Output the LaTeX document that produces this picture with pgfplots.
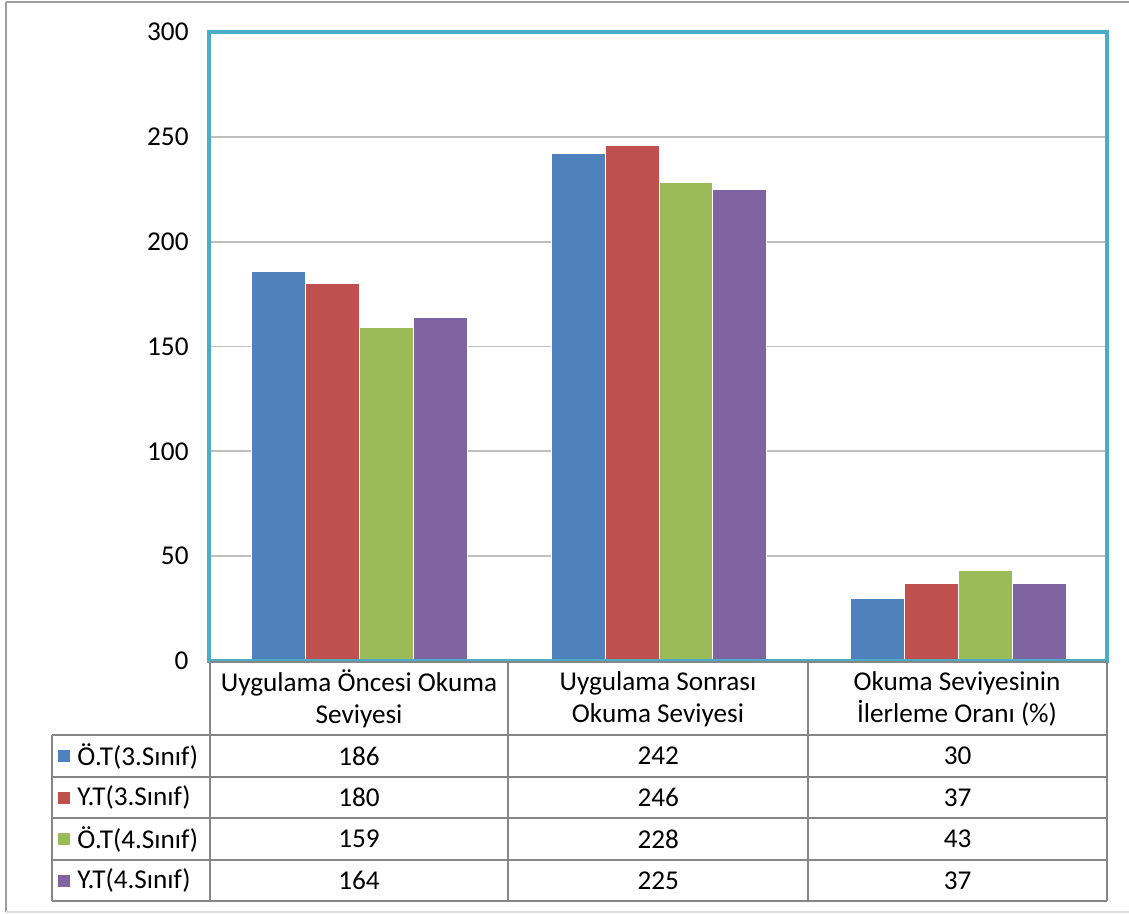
\documentclass[border=0pt]{standalone}
\usepackage{pgfplots}
\usepackage{pgfplotstable}
\pgfplotsset{compat=1.18}
\usepackage{fontspec}
\setmainfont{Carlito}

\definecolor{sblue}{HTML}{4F81BD}
\definecolor{sred}{HTML}{C0504D}
\definecolor{sgreen}{HTML}{9BBB59}
\definecolor{spurple}{HTML}{8064A2}
\definecolor{teal}{HTML}{4BACC6}
\definecolor{grid}{HTML}{868686}

% rows: categories, columns: series
\pgfplotstableread{
cat OT3 YT3 OT4 YT4
0   186 180 159 164
1   242 246 228 225
2   30  37  43  37
}\datatable

\begin{document}
\fontsize{13.6pt}{16pt}\selectfont
\begin{tikzpicture}
% picture drawn in pixel units of the reference (1 px = 0.5 pt, y downwards)
\begin{scope}[x=0.5pt,y=-0.5pt]
\useasboundingbox (0,0) rectangle (1129,914);
\draw[grid!80,line width=1pt] (6,2) -- (1129,2);
\draw[grid!80,line width=1pt] (6,2) -- (6,912);
\draw[gray!25,line width=1pt] (6,912) -- (1129,912);
\end{scope}

\begin{axis}[
at={(105pt,-330.5pt)}, anchor=south west,
scale only axis,
width=449pt, height=314.5pt,
ybar=0pt, bar width=0.18,
xmin=-0.5, xmax=2.5,
ymin=0, ymax=300,
ytick={0,50,...,300},
xtick=\empty,
axis line style={draw=none},
major tick length=0pt,
ymajorgrids,
grid style={grid, line width=0.9pt},
yticklabel style={font=\fontsize{13.6pt}{16pt}\selectfont, xshift=-6pt},
/pgf/number format/assume math mode=true,
clip=false,
every axis plot/.append style={draw=white, line width=0.5pt},
]
\addplot[fill=sblue] table[x=cat,y=OT3] {\datatable};
\addplot[fill=sred] table[x=cat,y=YT3] {\datatable};
\addplot[fill=sgreen] table[x=cat,y=OT4] {\datatable};
\addplot[fill=spurple] table[x=cat,y=YT4] {\datatable};
\end{axis}

\begin{scope}[x=0.5pt,y=-0.5pt]
% plot area border
\draw[teal,line width=2pt] (209,32) rectangle (1107,661);
% data table
\begin{scope}[grid,line width=0.9pt]
\draw (210,662) -- (1107,662);
\foreach \yy in {735,777,818,860,901} \draw (52,\yy) -- (1107,\yy);
\foreach \xx in {210,508,808,1107} \draw (\xx,662) -- (\xx,901);
\draw (52,735) -- (52,901);
\end{scope}
\node[align=center] at (359,699) {Uygulama Öncesi Okuma\\Seviyesi};
\node[align=center] at (658,699) {Uygulama Sonrası\\Okuma Seviyesi};
\node[align=center] at (957,699) {Okuma Seviyesinin\\İlerleme Oranı (\%)};
\foreach \r/\lab/\col [count=\i from 0] in
  {OT3/Ö.T(3.Sınıf)/sblue, YT3/Y.T(3.Sınıf)/sred,
   OT4/Ö.T(4.Sınıf)/sgreen, YT4/Y.T(4.Sınıf)/spurple} {
  \pgfmathsetmacro{\yc}{756+41.5*\i}
  \fill[\col] (58,\yc-6) rectangle (70,\yc+6);
  \node[anchor=west,inner sep=0pt] at (77,\yc) {\lab};
  \foreach \c in {0,1,2} {
    \pgfplotstablegetelem{\c}{\r}\of\datatable
    \node at (359+299.3*\c,\yc) {\pgfplotsretval};
  }
}
\end{scope}
\end{tikzpicture}
\end{document}
